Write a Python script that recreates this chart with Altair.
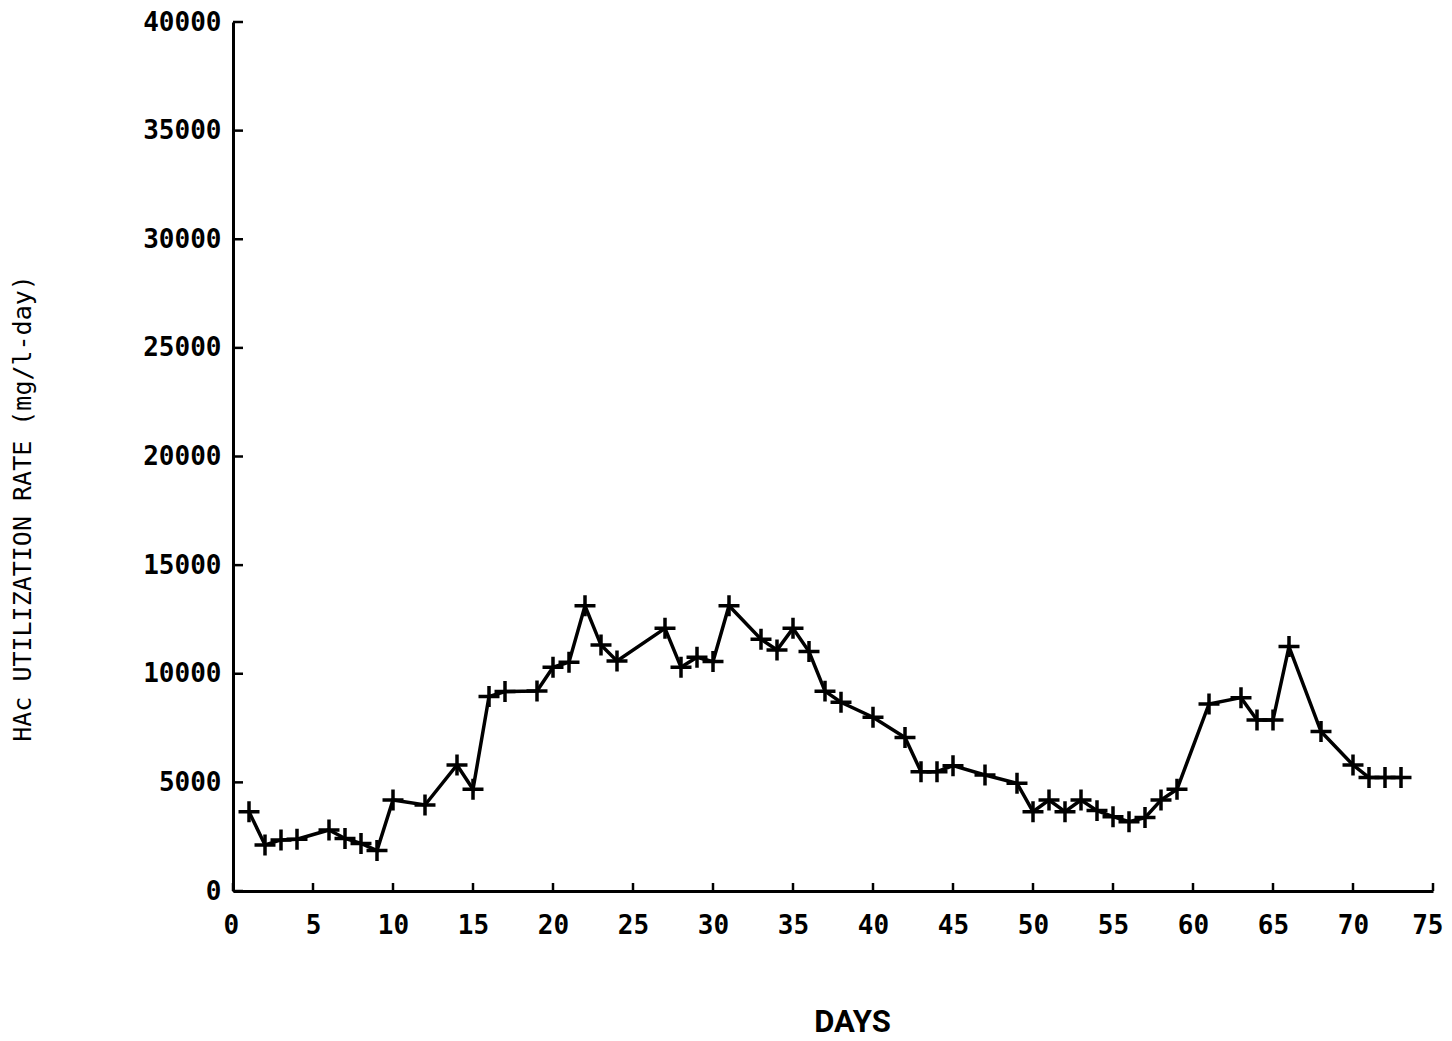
import altair as alt
import pandas as pd

days = [1, 2, 3, 4, 6, 7, 8, 9, 10, 12, 14, 15, 16, 17, 19, 20, 21, 22, 23, 24,
        27, 28, 29, 30, 31, 33, 34, 35, 36, 37, 38, 40, 42, 43, 44, 45, 47, 49,
        50, 51, 52, 53, 54, 55, 56, 57, 58, 59, 61, 63, 64, 65, 66, 68, 70, 71,
        72, 73]
rates = [3650, 2120, 2350, 2380, 2810, 2420, 2190, 1860, 4190, 3960, 5800, 4680,
         8950, 9180, 9210, 10300, 10530, 13130, 11320, 10590, 12090, 10300, 10760,
         10560, 13130, 11590, 11090, 12090, 11020, 9200, 8690, 8000, 7070, 5490,
         5490, 5770, 5340, 4960, 3650, 4190, 3650, 4190, 3700, 3420, 3190, 3380,
         4190, 4680, 8610, 8900, 7870, 7870, 11250, 7340, 5800, 5220, 5220, 5220]
x_ticks = list(range(0, 76, 5))
y_ticks = list(range(0, 40001, 5000))

df = pd.DataFrame({"day": days, "rate": rates})
xt = pd.DataFrame({"day": x_ticks})
yt = pd.DataFrame({"rate": y_ticks})

xscale = alt.Scale(domain=[0, 75], nice=False, zero=False)
yscale = alt.Scale(domain=[0, 40000], nice=False)

mono = "DejaVu Sans Mono"

xaxis = alt.Axis(values=x_ticks, format="d", title="DAYS", ticks=False, grid=False,
                 domainColor="black", domainWidth=3, labelFont=mono,
                 labelFontWeight="bold", labelFontSize=26, labelColor="black",
                 labelPadding=21, labelFlush=True, labelFlushOffset=10,
                 titleFont="Roboto", titleFontWeight="bold", titleFontSize=31,
                 titleColor="black", titleX=619, titleY=131,
                 titleBaseline="middle")
yaxis = alt.Axis(values=y_ticks, format="d",
                 title="HAc UTILIZATION RATE (mg/l-day)", ticks=False, grid=False,
                 domainColor="black", domainWidth=3, labelFont=mono,
                 labelFontWeight="bold", labelFontSize=26, labelColor="black",
                 labelPadding=12, labelFlush=False, titleFont=mono,
                 titleFontWeight="normal", titleFontSize=25, titleColor="black",
                 titleX=-211, titleY=486, titleAngle=-90, titleBaseline="middle",
                 titleAlign="center")

line = alt.Chart(df).mark_line(color="black", strokeWidth=3.5).encode(
    x=alt.X("day:Q", scale=xscale, axis=xaxis),
    y=alt.Y("rate:Q", scale=yscale, axis=yaxis),
)
pts = alt.Chart(df).mark_point(shape="M-1,0H1M0,-1V1", size=440, color="black",
                               strokeWidth=3.5, opacity=1).encode(
    x=alt.X("day:Q", scale=xscale),
    y=alt.Y("rate:Q", scale=yscale),
)
xtk = alt.Chart(xt).mark_rule(color="black", strokeWidth=2.5).encode(
    x=alt.X("day:Q", scale=xscale),
    y=alt.value(869), y2=alt.value(861),
)
ytk = alt.Chart(yt).mark_rule(color="black", strokeWidth=2.5).encode(
    y=alt.Y("rate:Q", scale=yscale),
    x=alt.value(0), x2=alt.value(10),
)

chart = alt.layer(line, pts, xtk, ytk).properties(
    width=1200, height=869,
    autosize=alt.AutoSizeParams(type="none"),
    padding={"left": 225, "top": 14, "right": 11, "bottom": 150},
    background="white",
).configure_view(strokeWidth=0)

chart.save("out.html", embed_options={"renderer": "svg", "actions": False})
